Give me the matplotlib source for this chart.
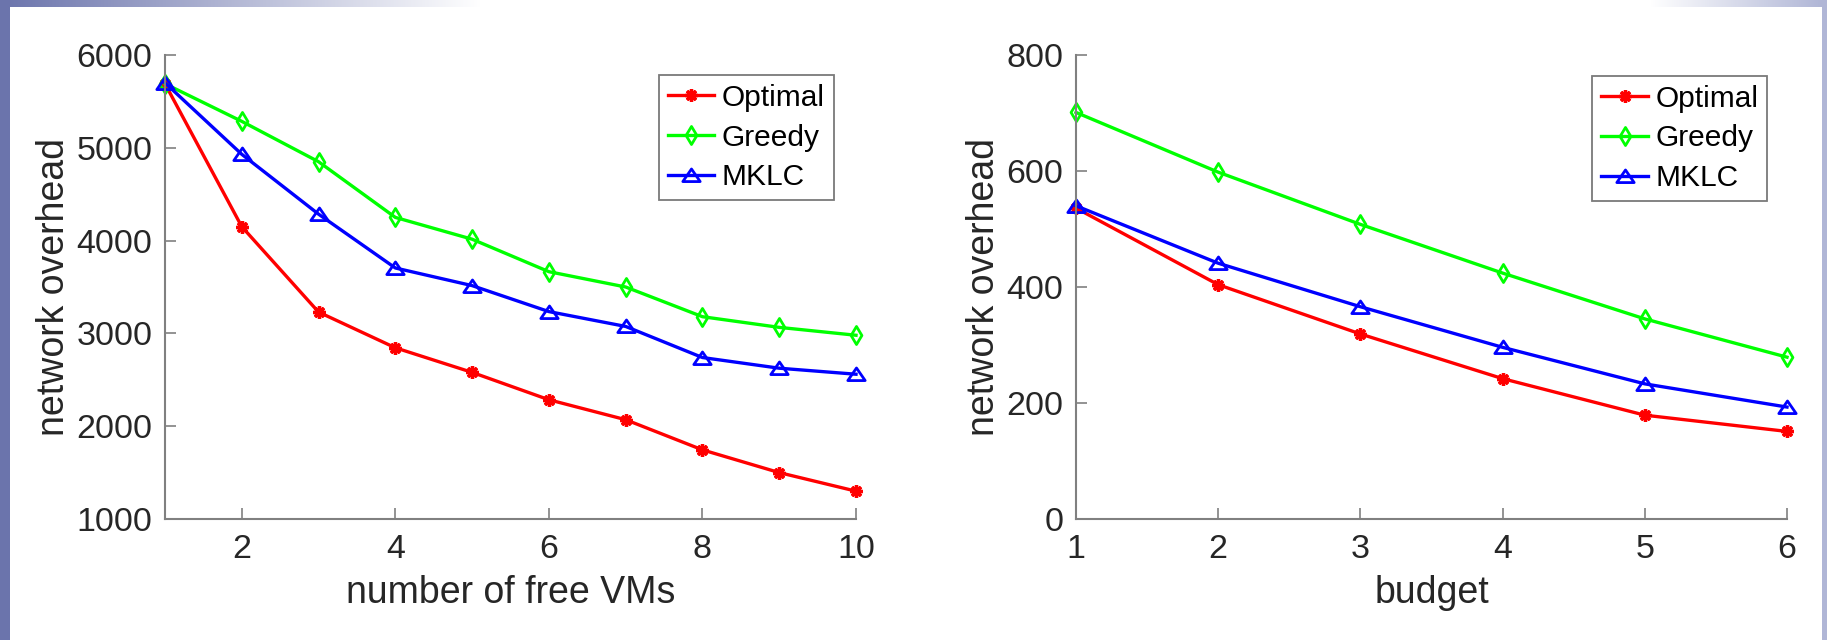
"""
Network overhead vs. free VMs and vs. budget — two panels, MATLAB look.
"""

import numpy as np
import matplotlib
matplotlib.use("Agg")
import matplotlib.pyplot as plt
from matplotlib.path import Path

plt.rcParams["font.family"] = ["Liberation Sans", "DejaVu Sans"]

# --- data ---
free_vms = [1, 2, 3, 4, 5, 6, 7, 8, 9, 10]
vms_optimal = [5690, 4150, 3230, 2845, 2580, 2285, 2070, 1745, 1500, 1300]
vms_greedy = [5690, 5285, 4850, 4250, 4015, 3665, 3500, 3180, 3065, 2980]
vms_mklc = [5700, 4930, 4285, 3705, 3515, 3235, 3075, 2740, 2625, 2560]

budget = [1, 2, 3, 4, 5, 6]
bud_optimal = [536, 404, 319, 242, 179, 151]
bud_greedy = [701, 598, 508, 424, 345, 279]
bud_mklc = [540, 441, 366, 296, 233, 193]

labels = ["Optimal", "Greedy", "MKLC"]
colors = ["#ff0000", "#00ff00", "#0000ff"]

# open diamond / triangle a bit like MATLAB's
diamond = Path([(0, 1), (0.6, 0), (0, -1), (-0.6, 0), (0, 1)],
               [Path.MOVETO, Path.LINETO, Path.LINETO, Path.LINETO, Path.CLOSEPOLY])
triangle = Path([(0, 0.75), (1, -0.7), (-1, -0.7), (0, 0.75)],
                [Path.MOVETO, Path.LINETO, Path.LINETO, Path.CLOSEPOLY])
styles = [dict(marker=(8, 2, 0), ms=9, mew=2.4),
          dict(marker=diamond, ms=13, mew=2.0, mfc="none"),
          dict(marker=triangle, ms=12.5, mew=2.0, mfc="none")]

TEXT = "#262626"
AXC = "#808080"

fig = plt.figure(figsize=(18.27, 6.4), dpi=100)

# slide background strips behind the figure
bg = fig.add_axes([0, 0, 1, 1], zorder=-5)
W, H = 1827, 640
img = np.ones((H, W, 3))
dark = np.array([107, 116, 172]) / 255
light = np.array([176, 182, 214]) / 255
xs = np.arange(W)
fade_l = np.clip(1 - xs / 480, 0, 1)[:, None]
fade_r = np.clip((xs - 1650) / 172, 0, 1)[:, None]
top = 1 - fade_l * (1 - dark) - fade_r * (1 - light)
img[:7] = top[None, :, :]
img[:, :10] = dark
img[:, 1822:] = light
bg.imshow(img, extent=[0, W, H, 0], aspect="auto", interpolation="nearest")
bg.set_axis_off()

ax1 = fig.add_axes([165 / W, 121 / H, 691 / W, 464 / H])
ax2 = fig.add_axes([1076 / W, 121 / H, 711 / W, 464 / H])

panels = [
    (ax1, free_vms, [vms_optimal, vms_greedy, vms_mklc], "number of free VMs",
     (1, 10), [2, 4, 6, 8, 10], (1000, 6000), range(1000, 6001, 1000), (0.968, 0.957)),
    (ax2, budget, [bud_optimal, bud_greedy, bud_mklc], "budget",
     (1, 6), budget, (0, 800), range(0, 801, 200), (0.972, 0.955)),
]

for ax, x, series, xlabel, xlim, xticks, ylim, yticks, anchor in panels:
    for y, lab, c, st in zip(series, labels, colors, styles):
        ax.plot(x, y, color=c, lw=2.4, label=lab, mec=c, clip_on=False, **st)
    ax.set_xlim(*xlim)
    ax.set_ylim(*ylim)
    ax.set_xticks(xticks)
    ax.set_yticks(list(yticks))
    ax.spines["top"].set_visible(False)
    ax.spines["right"].set_visible(False)
    for s in ("left", "bottom"):
        ax.spines[s].set_color(AXC)
        ax.spines[s].set_linewidth(1.5)
    ax.tick_params(direction="in", length=8, width=1.2, color=AXC,
                   labelsize=24.5, labelcolor=TEXT)
    ax.tick_params(axis="x", pad=11)
    ax.tick_params(axis="y", pad=9)
    ax.set_xlabel(xlabel, fontsize=27, color=TEXT, labelpad=7)
    ax.set_ylabel("network overhead", fontsize=27, color=TEXT, labelpad=3)
    leg = ax.legend(loc="upper right", bbox_to_anchor=anchor, borderaxespad=0,
                    fontsize=21.5, fancybox=False, framealpha=1, edgecolor="#7a7a7a",
                    handlelength=1.55, handletextpad=0.25, labelspacing=0.39,
                    borderpad=0.3)
    leg.get_frame().set_linewidth(1.3)

plt.savefig("out.png", dpi=100)
